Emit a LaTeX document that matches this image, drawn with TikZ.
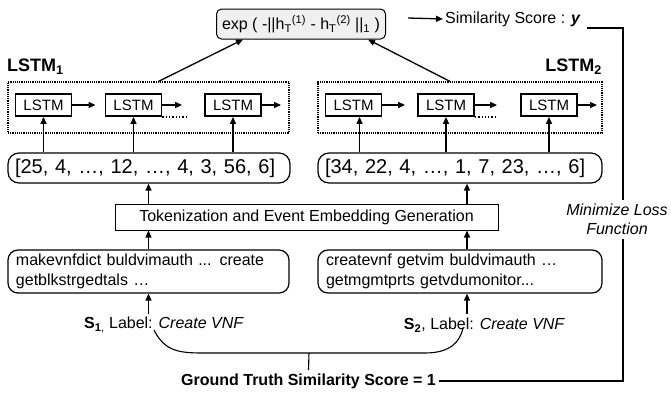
\documentclass[tikz,border=0pt]{standalone}
\usepackage{fontspec}
\setmainfont{Liberation Sans}
\usepackage{tikz}
\usetikzlibrary{shapes,%
	positioning,%
	arrows.meta%
}

\begin{document}
\begin{tikzpicture}[x=1pt, y=-1pt, >={Triangle[length=7pt,width=6pt]},
	font=\fontsize{16}{20}\selectfont]
	\useasboundingbox (0,0) rectangle (671,392);
	\begin{scope}[every node/.style={draw, densely dotted, line width=1.2pt, minimum height=51pt, inner sep=0pt}]
	\node[minimum width=281pt] (D1) at (148.5,107.5) {};
	\node[minimum width=284pt] (D2) at (460,107.5) {};
	\end{scope}
	
	\begin{scope}[every node/.style={inner sep=0pt, font=\fontsize{18}{20}\selectfont\bfseries}]
	\node[anchor=west] (N1) at (7,67) {LSTM\textsubscript{1}};
	\node[anchor=east] (N2) at (602,67) {LSTM\textsubscript{2}};
	\end{scope}
	
	\node[draw, rounded corners=5pt, fill=gray!12, line width=1pt, minimum width=169pt,
		minimum height=30pt, inner sep=0pt] (EXP) at (301,24)
		{exp ( -||h\textsubscript{T}\textsuperscript{(1)} - h\textsubscript{T}\textsuperscript{(2)} ||\textsubscript{1} )};
	\node[anchor=west, inner sep=0pt] (SIM) at (445,19) {Similarity Score : \textbf{\textit{y}}};
	
	\begin{scope}[every node/.style={draw, line width=1.8pt, minimum width=56pt, minimum height=22pt,
		inner sep=0pt, font=\fontsize{15}{18}\selectfont}]
	\node (A1) at (43.5,105) {LSTM};
	\node (A2) at (133.5,105) {LSTM};
	\node (A3) at (233,105) {LSTM};
	\node (B1) at (353.5,105) {LSTM};
	\node (B2) at (446,105) {LSTM};
	\node (B3) at (549,105) {LSTM};
	\end{scope}
	
	\begin{scope}[every node/.style={draw, rounded corners=11pt, line width=1.2pt, align=left,
		minimum height=30pt, inner xsep=7pt, inner ysep=0pt, font=\fontsize{20}{24}\selectfont}]
	\node[text width=268pt] (V1) at (149,168) {[25, 4, …, 12, …, 4, 3, 56, 6]};
	\node[text width=270pt] (V2) at (460,168) {[34, 22, 4, …, 1, 7, 23, …, 6]};
	\end{scope}
	
	\node[draw, line width=1pt, minimum width=383pt, minimum height=26pt, inner sep=0pt] (TOK)
		at (306.5,217) {Tokenization and Event Embedding Generation};
	
	\begin{scope}[every node/.style={draw, rounded corners=10pt, line width=1.2pt, align=left,
		minimum height=43pt, inner xsep=8pt, inner ysep=0pt}]
	\node[text width=265pt] (T1) at (148.5,271.5) {makevnfdict buldvimauth ... create\\getblkstrgedtals …};
	\node[text width=268pt] (T2) at (460,271.5) {createvnf getvim buldvimauth …\\getmgmtprts getvdumonitor...};
	\end{scope}
	
	\node (S1) at (164,325) {\textbf{S}\textsubscript{\textbf{1},} Label: \textit{Create VNF}};
	\node (S2) at (484.5,325) {\textbf{S\textsubscript{2}}, Label: \textit{Create VNF}};
	\node[font=\fontsize{16}{20}\selectfont\bfseries] (GT) at (308.5,381) {Ground Truth Similarity Score = 1};
	
	\coordinate (E1) at (281,105);
	\coordinate (E2) at (597,105);
	\coordinate (SA) at (408,18);
	\coordinate (SC) at (587,28);
	\coordinate (TURN) at (623,219);
	\coordinate (BL) at (154,330);
	\coordinate (BR) at (463,328);
	\coordinate (BM) at (309,353);
	
	\begin{scope}[every path/.style={draw=black, line width=1.3pt}]
	\path [->, shorten >=9pt] (A1) -- (A2);
	\path [->, shorten >=22pt] (A2) -- (A3);
	\path [->] (A3) -- (E1);
	\path [->, shorten >=12pt] (B1) -- (B2);
	\path [->, shorten >=23pt] (B2) -- (B3);
	\path [->] (B3) -- (E2);
	\path [dotted, shorten >=17pt] (A2.south east) -- (A2.south east -| A3.west);
	\path [dotted, shorten >=25pt] (B2.south east) -- (B2.south east -| B3.west);
	
	\path [->] (V1.north -| A1) -- (A1);
	\path [->] (V1.north -| A2) -- (A2);
	\path [->] (V1.north -| A3) -- (A3);
	\path [->] ([xshift=6pt]V2.north -| B1) -- ([xshift=6pt]B1.south);
	\path [->] (V2.north -| B2) -- (B2);
	\path [->] (V2.north -| B3) -- (B3);
	
	\path [->] (TOK.north -| T1) -- (V1.south -| T1);
	\path [->] ([xshift=7pt]TOK.north -| T2) -- ([xshift=7pt]V2.south -| T2);
	\path [->] (T1) -- (TOK.south -| T1);
	\path [->] ([xshift=7pt]T2.north) -- ([xshift=7pt]TOK.south -| T2);
	\path [->] (S1.north -| T1) -- (T1);
	\path [->] ([xshift=7pt]S2.north -| T2) -- ([xshift=7pt]T2.south);
	
	\path [->] ([xshift=10pt]D1.north) -- ([xshift=-58pt]EXP.south);
	\path [->] ([xshift=-10pt]D2.north) -- ([xshift=67pt]EXP.south);
	\path [->, shorten >=2pt] (SA) -- (SIM.west);
	\end{scope}
	
	\begin{scope}[every path/.style={draw=black, line width=1.1pt}]
	\path (BL) .. controls (165,352) and (180,353) .. (205,353) -- (425,353)
		.. controls (450,353) and (460,342) .. (BR);
	\path (BM) -- (GT.north);
	\path (GT.east) -| (TURN) |- (SC);
	\end{scope}
	
	\node[fill=white, align=center, inner xsep=1pt, inner ysep=4pt,
		font=\fontsize{16}{19}\selectfont\itshape] (LOSS) at (617,219.5) {Minimize Loss\\Function};
\end{tikzpicture}
\end{document}
